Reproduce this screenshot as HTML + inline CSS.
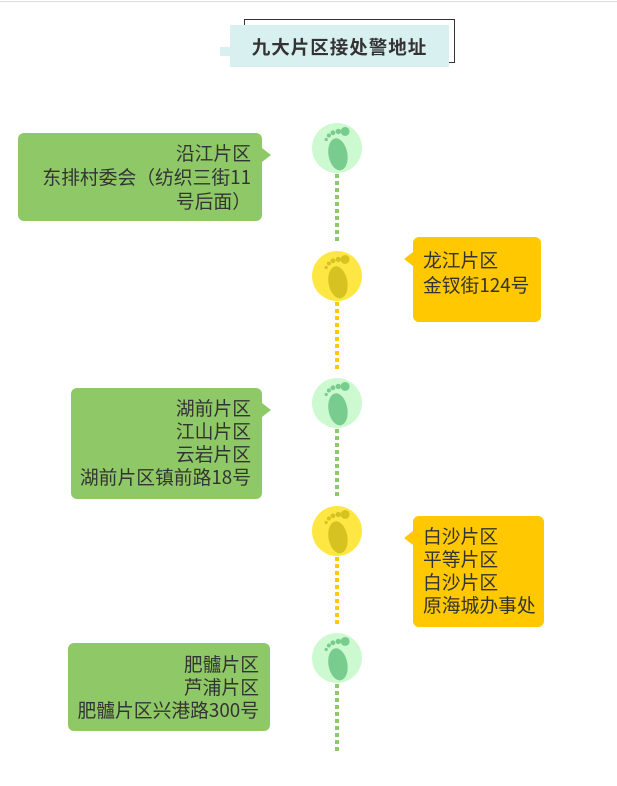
<!DOCTYPE html>
<html><head><meta charset="utf-8"><style>
body{margin:0;width:617px;height:786px;background:#fff;position:relative;overflow:hidden;font-family:"Noto Sans CJK SC","Liberation Sans",sans-serif;}
.a{position:absolute}
.box{position:absolute;border-radius:6px;color:#333;font-size:18.8px;line-height:24px;box-sizing:border-box;white-space:nowrap}
.g{background:#8fc866}
.y{background:#ffc800}
.r{text-align:right;padding-right:11px}
.l{text-align:left;padding-left:10px}
.ar{position:absolute;width:0;height:0;border-top:7px solid transparent;border-bottom:7px solid transparent}
.circ{position:absolute;width:50px;height:50px;border-radius:50%;left:312px}
.cg{background:#ccf9cf}
.cy{background:#ffe743}
.line{position:absolute;left:335px;width:4px}
.lg{background:repeating-linear-gradient(to bottom,#8fc866 0 4px,transparent 4px 7px)}
.ly{background:repeating-linear-gradient(to bottom,#ffc800 0 4px,transparent 4px 7px)}
</style></head><body>
<div class="a" style="left:0;top:1px;width:617px;height:1px;background:#ddd"></div>
<div class="a" style="left:244px;top:19px;width:210px;height:42px;border:1px solid #333;border-left:none"></div>
<div class="a" style="left:244px;top:19px;width:1px;height:6px;background:#333"></div>
<div class="a" style="left:230px;top:25px;width:219px;height:42px;background:#d8f0ef"></div>
<div class="a" style="left:220px;top:47px;width:10px;height:9px;background:#d8f0ef"></div>
<div class="a" style="left:230px;top:25px;width:219px;height:42px;line-height:44px;text-align:center;font-size:18.5px;font-weight:bold;color:#333;letter-spacing:1px">九大片区接处警地址</div>

<div class="line lg" style="top:174px;height:68px"></div>
<div class="line ly" style="top:302px;height:70px"></div>
<div class="line lg" style="top:429px;height:70px"></div>
<div class="line ly" style="top:557px;height:70px"></div>
<div class="line lg" style="top:684px;height:68px"></div>

<svg width="0" height="0" style="position:absolute"><defs>
<g id="foot"><ellipse cx="0" cy="4" rx="7" ry="12" transform="rotate(-10)"/><circle cx="6" cy="-13" r="3.3"/><circle cx="1" cy="-13" r="2"/><circle cx="-3" cy="-12" r="1.8"/><circle cx="-6" cy="-10" r="1.5"/><circle cx="-8" cy="-7" r="1.2"/></g></defs></svg>

<div class="circ cg" style="top:123px"><svg width="50" height="50"><g transform="translate(25,26) scale(1.35)" fill="#78cc8e"><use href="#foot"/></g></svg></div>
<div class="circ cy" style="top:251px"><svg width="50" height="50"><g transform="translate(25,26) scale(1.35)" fill="#d6c322"><use href="#foot"/></g></svg></div>
<div class="circ cg" style="top:378px"><svg width="50" height="50"><g transform="translate(25,26) scale(1.35)" fill="#78cc8e"><use href="#foot"/></g></svg></div>
<div class="circ cy" style="top:506px"><svg width="50" height="50"><g transform="translate(25,26) scale(1.35)" fill="#d6c322"><use href="#foot"/></g></svg></div>
<div class="circ cg" style="top:633px"><svg width="50" height="50"><g transform="translate(25,26) scale(1.35)" fill="#78cc8e"><use href="#foot"/></g></svg></div>

<div class="box g r" style="left:18px;top:133px;width:244px;height:88px;padding-top:8px">沿江片区<br>东排村委会（纺织三街11<br>号后面）</div>
<div class="ar" style="left:262px;top:148px;border-left:9px solid #8fc866"></div>

<div class="box y l" style="left:413px;top:237px;width:128px;height:85px;padding-top:10px;line-height:25px">龙江片区<br>金钗街124号</div>
<div class="ar" style="left:404px;top:252px;border-right:9px solid #ffc800"></div>

<div class="box g r" style="left:71px;top:388px;width:191px;height:111px;padding-top:8px;line-height:23px">湖前片区<br>江山片区<br>云岩片区<br>湖前片区镇前路18号</div>
<div class="ar" style="left:262px;top:403px;border-left:9px solid #8fc866"></div>

<div class="box y l" style="left:413px;top:516px;width:131px;height:111px;padding-top:8px;line-height:23px">白沙片区<br>平等片区<br>白沙片区<br>原海城办事处</div>
<div class="ar" style="left:404px;top:531px;border-right:9px solid #ffc800"></div>

<div class="box g r" style="left:68px;top:643px;width:202px;height:88px;padding-top:9px;line-height:23px">肥髗片区<br>芦浦片区<br>肥髗片区兴港路300号</div>
</body></html>
